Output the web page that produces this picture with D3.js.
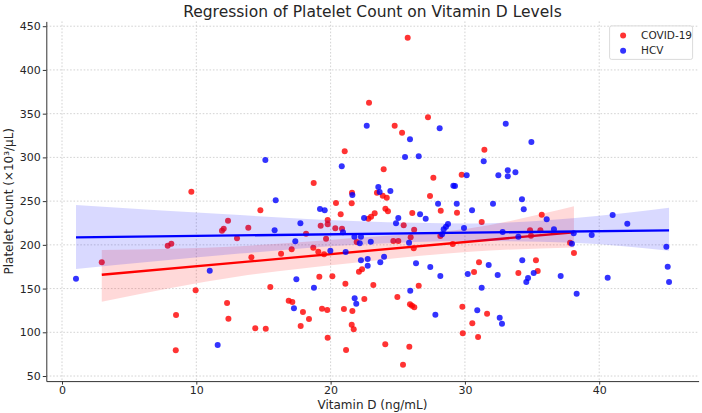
<!DOCTYPE html>
<html>
<head>
<meta charset="utf-8">
<script src="https://cdn.jsdelivr.net/npm/d3@7"></script>
<style>
    body { margin: 0; background: #fff; }
    svg { display: block; font-family: "DejaVu Sans", sans-serif; }
</style>
</head>
<body>
<div id="chart"></div>
<script>
/*
    DATA
*/
let covidVitD = [
    2.96, 7.87, 8.14, 8.49, 8.47, 9.63, 9.95, 11.91, 12.04, 12.36,
    12.29, 12.39, 13.03, 13.87, 14.10, 14.39, 14.77, 15.17, 15.51, 16.31,
    16.88, 17.10, 17.15, 17.77, 17.94, 18.17, 18.39, 18.71, 18.74, 19.08,
    19.16, 19.26, 19.36, 19.51, 19.66, 19.75, 19.78, 19.78, 19.78, 20.13,
    20.35, 20.40, 20.75, 20.85, 20.99, 21.05, 21.10, 21.15, 21.57, 21.59,
    21.57, 21.62, 21.72, 21.94, 22.11, 22.34, 22.51, 22.81, 22.86, 23.01,
    23.18, 23.28, 23.45, 23.88, 23.95, 24.07, 24.08, 24.18, 24.27, 24.67,
    24.77, 24.97, 25.04, 25.32, 25.39, 25.44, 25.74, 25.86, 25.91, 25.96,
    26.06, 26.08, 26.19, 26.22, 26.23, 26.56, 27.25, 27.40, 27.65, 28.17,
    28.20, 29.09, 29.41, 29.76, 29.81, 29.84, 30.55, 30.68, 30.98, 31.05,
    31.25, 31.45, 31.65, 33.98, 34.85, 34.92, 35.29, 35.42, 35.62, 35.72,
    37.83, 38.12
];
let covidPlt = [
    180.0, 199.0, 201.3, 119.8, 79.4, 260.7, 148.0, 216.2, 218.5, 227.6,
    133.5, 115.5, 207.5, 219.6, 185.7, 104.5, 239.5, 104.1, 151.8, 189.9,
    136.1, 194.9, 134.6, 107.2, 123.2, 212.7, 115.2, 196.7, 270.7, 192.1,
    163.6, 221.9, 127.0, 189.2, 207.0, 125.5, 228.4, 223.5, 93.8, 164.0,
    218.9, 247.8, 234.9, 218.4, 126.6, 307.0, 155.6, 79.7, 247.5, 259.6,
    108.7, 124.3, 103.4, 203.2, 169.3, 172.0, 138.0, 229.9, 362.5, 232.2,
    154.1, 236.0, 259.6, 256.2, 286.4, 86.2, 241.3, 253.9, 238.3, 204.4,
    336.2, 140.3, 204.4, 328.2, 62.9, 222.3, 436.8, 83.5, 132.0, 208.6,
    130.4, 236.4, 196.0, 217.3, 128.6, 153.3, 345.8, 255.8, 276.8, 210.1,
    239.0, 200.9, 236.7, 280.2, 129.2, 98.8, 110.3, 168.9, 94.6, 180.0,
    226.1, 308.8, 121.2, 167.8, 216.6, 210.4, 182.3, 170.1, 216.6, 234.5,
    202.4, 190.7
];
let hcvVitD = [
    1.04, 11.00, 11.59, 15.14, 15.83, 15.91, 17.27, 17.37, 17.45, 17.75,
    18.76, 19.21, 19.56, 19.98, 20.83, 20.92, 21.12, 21.62, 21.77, 21.79,
    21.91, 22.17, 22.26, 22.26, 22.49, 22.69, 22.76, 22.76, 22.99, 23.55,
    23.65, 23.70, 23.98, 24.45, 24.87, 25.04, 25.54, 25.84, 25.91, 25.93,
    26.36, 26.56, 26.66, 27.08, 27.42, 27.80, 28.00, 28.12, 28.17, 28.30,
    28.42, 28.59, 28.74, 29.14, 29.26, 29.39, 29.93, 30.13, 30.21, 30.53,
    30.92, 31.25, 31.40, 31.77, 32.09, 32.44, 32.49, 32.59, 32.76, 32.81,
    33.04, 33.19, 33.19, 33.76, 33.98, 34.25, 34.27, 34.38, 34.57, 34.70,
    34.95, 35.12, 36.09, 36.63, 37.13, 37.97, 38.10, 38.32, 39.44, 40.63,
    41.00, 42.09, 45.00, 45.10, 45.20
];
let hcvPlt = [
    161.3, 170.4, 85.4, 297.0, 216.6, 250.9, 127.4, 204.0, 160.6, 224.6,
    151.0, 241.0, 239.5, 193.3, 289.8, 214.3, 191.7, 257.0, 209.3, 138.9,
    132.7, 201.7, 209.3, 182.3, 230.7, 336.2, 183.8, 176.1, 203.6, 266.1,
    260.4, 180.0, 186.4, 261.5, 224.6, 230.7, 300.4, 202.4, 320.7, 147.5,
    178.9, 301.2, 234.9, 229.9, 174.6, 120.1, 247.0, 333.2, 164.4, 212.0,
    217.7, 220.7, 223.8, 267.6, 267.3, 247.0, 219.2, 279.5, 166.6, 239.5,
    125.1, 151.0, 295.5, 176.9, 247.0, 165.5, 279.5, 116.7, 109.8, 214.7,
    338.5, 285.2, 278.4, 282.9, 209.3, 252.1, 182.3, 240.6, 157.5, 162.1,
    317.6, 167.8, 229.2, 217.7, 164.4, 201.3, 213.2, 144.1, 211.2, 162.4,
    234.1, 224.2, 197.9, 175.0, 157.5
];

// regression lines, as [vitD, platelets] at both ends
let covidLine = [[2.96, 165.8], [38.12, 214.4]];
let hcvLine = [[1.04, 208.6], [45.2, 216.6]];

// confidence bands, as [vitD, low, high] read at a few places
let covidBand = [[2.96, 135.0, 194.1], [13.25, 164.0, 198.5], [21.45, 179.0, 207.5], [30.38, 192.1, 218.9], [38.12, 197.0, 244.0]];
let hcvBand = [[1.04, 172.4, 245.5], [13.25, 190.0, 234.0], [22.2, 200.5, 227.0], [30.4, 204.5, 224.5], [38.0, 202.5, 230.5], [45.2, 193.3, 242.5]];

let SERIES_NAMES = ["COVID-19", "HCV"];
let X_TICKS = [0, 10, 20, 30, 40];
let Y_TICKS = [50, 100, 150, 200, 250, 300, 350, 400, 450];

/*
    CONSTANTS
*/
let SIZE = { width: 702, height: 413 };
let PLOT = { left: 46.3, right: 698.6, top: 21.4, bot: 381.1 };
let COLORS = { covid: "#ff0000", hcv: "#0000ff" };
let TEXT_COLOR = "#262626";

var x = d3.scaleLinear().domain([-1.17, 47.4]).range([PLOT.left, PLOT.right]);
var y = d3.scaleLinear().domain([44.2, 455.5]).range([PLOT.bot, PLOT.top]);

var svg = d3.select("#chart")
    .append("svg")
    .attr("width", SIZE.width)
    .attr("height", SIZE.height);

/*
    GRID
*/
var grid = svg.append("g")
    .attr("stroke", "#c8c8c8")
    .attr("stroke-width", 0.8)
    .attr("stroke-dasharray", "1.6,1.8");
grid.selectAll("line.vx")
    .data(X_TICKS)
    .enter()
    .append("line")
    .attr("class", "vx")
    .attr("x1", d => x(d)).attr("x2", d => x(d))
    .attr("y1", PLOT.top).attr("y2", PLOT.bot);
grid.selectAll("line.hy")
    .data(Y_TICKS)
    .enter()
    .append("line")
    .attr("class", "hy")
    .attr("x1", PLOT.left).attr("x2", PLOT.right)
    .attr("y1", d => y(d)).attr("y2", d => y(d));

/*
    SERIES (drawn like two regplot calls: points, band, line)
*/
var bandArea = d3.area()
    .x(d => x(d[0]))
    .y0(d => y(d[1]))
    .y1(d => y(d[2]))
    .curve(d3.curveMonotoneX);
var fitLine = d3.line()
    .x(d => x(d[0]))
    .y(d => y(d[1]));

function drawSeries(vitD, plt, band, line, color) {
    var pts = vitD.map((v, i) => [v, plt[i]]);
    svg.append("g")
        .selectAll("circle")
        .data(pts)
        .enter()
        .append("circle")
        .attr("cx", d => x(d[0]))
        .attr("cy", d => y(d[1]))
        .attr("r", 3)
        .attr("fill", color)
        .attr("fill-opacity", 0.8);
    svg.append("path")
        .datum(band)
        .attr("d", bandArea)
        .attr("fill", color)
        .attr("fill-opacity", 0.15);
    svg.append("path")
        .datum(line)
        .attr("d", fitLine)
        .attr("fill", "none")
        .attr("stroke", color)
        .attr("stroke-width", 2.3);
}

drawSeries(covidVitD, covidPlt, covidBand, covidLine, COLORS.covid);
drawSeries(hcvVitD, hcvPlt, hcvBand, hcvLine, COLORS.hcv);

/*
    AXES
*/
var xAxis = svg.append("g")
    .attr("transform", `translate(0, ${PLOT.bot})`)
    .call(d3.axisBottom(x).tickValues(X_TICKS).tickSize(3.5).tickSizeOuter(0).tickPadding(1.5));
var yAxis = svg.append("g")
    .attr("transform", `translate(${PLOT.left}, 0)`)
    .call(d3.axisLeft(y).tickValues(Y_TICKS).tickSize(3.5).tickSizeOuter(0).tickPadding(2));
[xAxis, yAxis].forEach(a => {
    a.selectAll("path, line").attr("stroke", "#333").attr("stroke-width", 1);
    a.selectAll("text")
        .attr("fill", TEXT_COLOR)
        .style("font-size", "11px")
        .style("font-family", "DejaVu Sans, sans-serif");
});

svg.append("text")
    .attr("x", (PLOT.left + PLOT.right) / 2)
    .attr("y", 408.5)
    .attr("text-anchor", "middle")
    .attr("fill", TEXT_COLOR)
    .style("font-size", "12px")
    .text("Vitamin D (ng/mL)");

svg.append("text")
    .attr("transform", `translate(13, ${(PLOT.top + PLOT.bot) / 2}) rotate(-90)`)
    .attr("text-anchor", "middle")
    .attr("fill", TEXT_COLOR)
    .style("font-size", "12px")
    .text("Platelet Count (×10³/μL)");

svg.append("text")
    .attr("x", (PLOT.left + PLOT.right) / 2)
    .attr("y", 17)
    .attr("text-anchor", "middle")
    .attr("fill", TEXT_COLOR)
    .style("font-size", "15.5px")
    .text("Regression of Platelet Count on Vitamin D Levels");

/*
    LEGEND
*/
var legend = svg.append("g")
    .attr("transform", `translate(${PLOT.right - 89}, ${PLOT.top + 4.5})`);
legend.append("rect")
    .attr("width", 83)
    .attr("height", 33.5)
    .attr("rx", 2)
    .attr("fill", "#fff")
    .attr("fill-opacity", 0.8)
    .attr("stroke", "#d0d0d0")
    .attr("stroke-width", 0.8);
var items = legend.selectAll("g.item")
    .data(SERIES_NAMES)
    .enter()
    .append("g")
    .attr("class", "item")
    .attr("transform", (d, i) => `translate(0, ${9.5 + i * 15.4})`);
items.append("circle")
    .attr("cx", 13.5)
    .attr("r", 3)
    .attr("fill", (d, i) => i == 0 ? COLORS.covid : COLORS.hcv)
    .attr("fill-opacity", 0.8);
items.append("text")
    .attr("x", 31.5)
    .attr("dy", "0.35em")
    .attr("fill", TEXT_COLOR)
    .style("font-size", "10.5px")
    .text(d => d);
</script>
</body>
</html>
